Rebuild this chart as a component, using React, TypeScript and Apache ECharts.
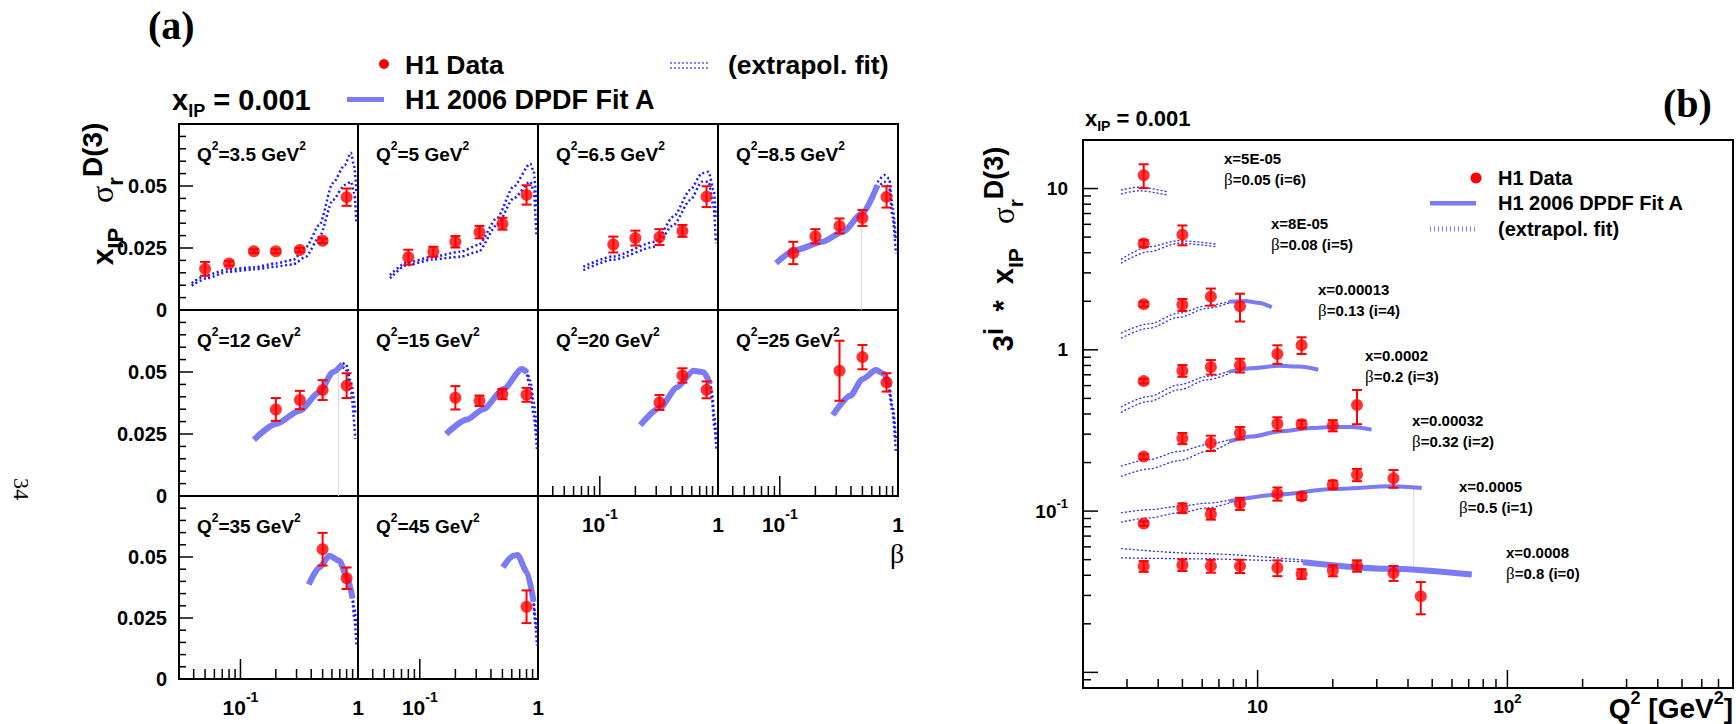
import React, { useEffect, useRef } from 'react';
import * as echarts from 'echarts';

const SANS = '"Liberation Sans", Arial, Helvetica, sans-serif';
const SERIF = '"Liberation Serif", "Times New Roman", serif';

// ---------------- DATA ----------------
const X_POMERON = '0.001';
const Q2_BINS = [3.5, 5, 6.5, 8.5, 12, 15, 20, 25, 35, 45];
// index i of panel (b): scale factor 3^i
const BETA_BINS = [0.8, 0.5, 0.32, 0.2, 0.13, 0.08, 0.05];
const X_BINS = ['0.0008', '0.0005', '0.00032', '0.0002', '0.00013', '8E-05', '5E-05'];

// measured points: [beta, x_IP*sigma_r, error]
const DATA_Q2_3P5 = [
  [0.05, 0.0166, 0.0028], [0.08, 0.0188, 0.0009], [0.13, 0.0237, 0.0008], [0.2, 0.0237, 0.0008],
  [0.32, 0.0242, 0.0008], [0.5, 0.0279, 0.0009], [0.8, 0.0455, 0.0035],
];
const DATA_Q2_5 = [
  [0.08, 0.0213, 0.003], [0.13, 0.0235, 0.002], [0.2, 0.0275, 0.0023], [0.32, 0.0314, 0.0025],
  [0.5, 0.0348, 0.0024], [0.8, 0.0464, 0.0039],
];
const DATA_Q2_6P5 = [
  [0.13, 0.0264, 0.0032], [0.2, 0.029, 0.003], [0.32, 0.0294, 0.0032], [0.5, 0.0319, 0.0024], [0.8, 0.0457, 0.0042],
];
const DATA_Q2_8P5 = [
  [0.13, 0.023, 0.0045], [0.2, 0.0297, 0.0029], [0.32, 0.0339, 0.003], [0.5, 0.0371, 0.0032], [0.8, 0.0456, 0.0043],
];
const DATA_Q2_12 = [[0.2, 0.0349, 0.0046], [0.32, 0.0387, 0.0037], [0.5, 0.0427, 0.004], [0.8, 0.0445, 0.005]];
const DATA_Q2_15 = [[0.2, 0.0396, 0.0047], [0.32, 0.0384, 0.0021], [0.5, 0.0411, 0.0021], [0.8, 0.0408, 0.0028]];
const DATA_Q2_20 = [[0.32, 0.0377, 0.003], [0.5, 0.0486, 0.0029], [0.8, 0.0428, 0.0034]];
const DATA_Q2_25 = [[0.32, 0.0505, 0.0121], [0.5, 0.056, 0.0049], [0.8, 0.0458, 0.0037]];
const DATA_Q2_35 = [[0.5, 0.0532, 0.0067], [0.8, 0.0413, 0.0044]];
const DATA_Q2_45 = [[0.8, 0.0296, 0.0067]];

// panel (a) fit (solid band centre): [beta, value]
const FIT_Q2_8P5 = [[0.093, 0.0189], [0.136, 0.0242], [0.23, 0.0275], [0.34, 0.0315], [0.5, 0.039], [0.671, 0.0504]];
const FIT_Q2_12 = [[0.13, 0.0227], [0.2, 0.029], [0.318, 0.0344], [0.47, 0.0418], [0.61, 0.0499], [0.74, 0.0532]];
const FIT_Q2_15 = [[0.167, 0.025], [0.25, 0.0308], [0.346, 0.0351], [0.51, 0.0431], [0.731, 0.0512], [0.807, 0.0499]];
const FIT_Q2_20 = [[0.22, 0.0286], [0.324, 0.0357], [0.449, 0.0438], [0.621, 0.0505], [0.755, 0.0499], [0.86, 0.0451]];
const FIT_Q2_25 = [[0.281, 0.0326], [0.394, 0.0404], [0.5, 0.0471], [0.65, 0.0508], [0.766, 0.0492], [0.843, 0.0438]];
const FIT_Q2_35 = [[0.381, 0.0387], [0.47, 0.0458], [0.571, 0.0505], [0.693, 0.0485], [0.817, 0.0411], [0.9, 0.033]];
const FIT_Q2_45 = [[0.505, 0.0458], [0.621, 0.0505], [0.671, 0.0508], [0.807, 0.0438], [0.918, 0.0317]];

// panel (a) extrapolated fit band edges: [beta, lower, upper]
const EXTRAP_Q2_3P5 = [
  [0.0385, 0.0098, 0.0108], [0.0515, 0.0128, 0.0141], [0.0785, 0.0154, 0.0164], [0.13, 0.0164, 0.0172],
  [0.2, 0.0175, 0.0188], [0.28, 0.0184, 0.0202], [0.36, 0.0215, 0.0253], [0.47, 0.0295, 0.0343],
  [0.61, 0.0443, 0.0511], [0.77, 0.0504, 0.0584], [0.87, 0.0517, 0.0634], [0.93, 0.047, 0.0578], [0.97, 0.035, 0.047],
];
const EXTRAP_Q2_5 = [
  [0.056, 0.0128, 0.0141], [0.0775, 0.0181, 0.0191], [0.13, 0.0204, 0.0215], [0.22, 0.0215, 0.0235],
  [0.313, 0.0235, 0.0262], [0.449, 0.0343, 0.037], [0.621, 0.045, 0.0497], [0.861, 0.0517, 0.059],
  [0.92, 0.048, 0.056], [0.97, 0.03, 0.042],
];
const EXTRAP_Q2_6P5 = [
  [0.0726, 0.0161, 0.0175], [0.13, 0.0203, 0.0216], [0.294, 0.0255, 0.0275], [0.42, 0.0343, 0.0376],
  [0.582, 0.0443, 0.0484], [0.731, 0.0517, 0.0551], [0.832, 0.0517, 0.0557], [0.918, 0.0416, 0.0484], [0.96, 0.0269, 0.0376],
];
const EXTRAP_Q2_8P5 = [[0.671, 0.049, 0.0515], [0.766, 0.0517, 0.0544], [0.843, 0.049, 0.053], [0.9, 0.0376, 0.0416], [0.96, 0.0228, 0.0282]];
const EXTRAP_Q2_12 = [[0.74, 0.052, 0.0535], [0.79, 0.0512, 0.0532], [0.87, 0.0418, 0.0458], [0.95, 0.023, 0.0337]];
const EXTRAP_Q2_15 = [[0.807, 0.049, 0.0505], [0.86, 0.0438, 0.0465], [0.92, 0.0324, 0.0378], [0.98, 0.019, 0.0257]];
const EXTRAP_Q2_20 = [[0.86, 0.044, 0.046], [0.89, 0.039, 0.0418], [0.93, 0.0283, 0.0324], [0.97, 0.019, 0.023]];
const EXTRAP_Q2_25 = [[0.843, 0.043, 0.0445], [0.9, 0.0337, 0.0364], [0.96, 0.0176, 0.023]];
const EXTRAP_Q2_35 = [[0.9, 0.032, 0.034], [0.93, 0.025, 0.029], [0.97, 0.0142, 0.021]];
const EXTRAP_Q2_45 = [[0.918, 0.031, 0.0325], [0.95, 0.0223, 0.0257], [0.98, 0.0137, 0.0196]];

// faint drawing artefacts (thin vertical lines)
const VLINE_Q2_8P5 = [[0.489, 0], [0.489, 0.0356]];
const VLINE_Q2_12 = [[0.684, 0], [0.684, 0.0525]];
const VLINE_B = [[42.2, 0.0435], [42.2, 0.139]];

// panel (b) fits, already multiplied by 3^i: solid [Q2, value]; extrapolated [Q2, lower, upper]
const FIT_B_I0 = [[15.2, 0.0482], [33.4, 0.0439], [72, 0.0404]];
const FIT_B_I1 = [[7.67, 0.115], [12.2, 0.1265], [19.9, 0.137], [34.5, 0.1425], [45.4, 0.139]];
const FIT_B_I2 = [[7.67, 0.27], [9.5, 0.29], [12.2, 0.312], [16.5, 0.327], [19.9, 0.332], [23.9, 0.332], [28.6, 0.32]];
const FIT_B_I3 = [[7.67, 0.73], [9.5, 0.77], [12.2, 0.796], [14.6, 0.788], [17.5, 0.752]];
const FIT_B_I4 = [[7.67, 1.99], [8.95, 2.01], [10, 1.96], [11.4, 1.84]];
const EXTRAP_B_I0 = [[2.84, 0.0513, 0.0586], [5.82, 0.0506, 0.0546], [15.2, 0.0485, 0.0497]];
const EXTRAP_B_I1 = [[2.84, 0.0853, 0.0975], [3.67, 0.0908, 0.102], [4.84, 0.0975, 0.107], [6.29, 0.1047, 0.112], [7.67, 0.112, 0.1167]];
const EXTRAP_B_I2 = [[2.84, 0.164, 0.19], [3.67, 0.1825, 0.2085], [4.84, 0.2055, 0.2345], [6.29, 0.2345, 0.258], [7.67, 0.264, 0.277]];
const EXTRAP_B_I3 = [[2.84, 0.409, 0.442], [3.67, 0.479, 0.514], [4.84, 0.565, 0.607], [6.29, 0.652, 0.684], [7.67, 0.71, 0.734]];
const EXTRAP_B_I4 = [[2.84, 1.18, 1.27], [3.67, 1.36, 1.45], [4.84, 1.59, 1.69], [6.29, 1.81, 1.88], [7.67, 1.95, 1.99]];
const EXTRAP_B_I5 = [[2.84, 3.44, 3.64], [3.67, 4.06, 4.36], [4.84, 4.58, 4.75], [6.79, 4.36, 4.53]];
const EXTRAP_B_I6 = [[2.84, 9.25, 9.79], [3.35, 9.69, 10.2], [4.34, 9.12, 9.56]];

// axis ranges and ticks
const BETA_RANGE = [0.03, 1];
const SIGMA_RANGE = [0, 0.075];
const Q2_RANGE = [2, 800];
const SCALED_RANGE = [0.008, 20];
const BETA_MAJOR_TICKS = [0.1];
const BETA_MINOR_TICKS = [0.04, 0.05, 0.06, 0.07, 0.08, 0.09, 0.2, 0.3, 0.4, 0.5, 0.6, 0.7, 0.8, 0.9];
const SIGMA_MAJOR_TICKS = [0.025, 0.05];
const SIGMA_MINOR_TICKS = [0.005, 0.01, 0.015, 0.02, 0.03, 0.035, 0.04, 0.045, 0.055, 0.06, 0.065, 0.07];
const Q2_MAJOR_TICKS = [10, 100];
const Q2_MINOR_TICKS = [3, 4, 5, 6, 7, 8, 9, 20, 30, 40, 50, 60, 70, 80, 90, 200, 300, 400, 500, 600, 700];
const SCALED_MAJOR_TICKS = [0.01, 0.1, 1, 10];
const SCALED_MINOR_TICKS = [0.009, 0.02, 0.03, 0.04, 0.05, 0.06, 0.07, 0.08, 0.09, 0.2, 0.3, 0.4, 0.5, 0.6, 0.7, 0.8, 0.9, 2, 3, 4, 5, 6, 7, 8, 9];

const PANEL_DATA = [DATA_Q2_3P5, DATA_Q2_5, DATA_Q2_6P5, DATA_Q2_8P5, DATA_Q2_12, DATA_Q2_15, DATA_Q2_20, DATA_Q2_25, DATA_Q2_35, DATA_Q2_45];
const PANEL_FIT = [[], [], [], FIT_Q2_8P5, FIT_Q2_12, FIT_Q2_15, FIT_Q2_20, FIT_Q2_25, FIT_Q2_35, FIT_Q2_45];
const PANEL_EXTRAP = [EXTRAP_Q2_3P5, EXTRAP_Q2_5, EXTRAP_Q2_6P5, EXTRAP_Q2_8P5, EXTRAP_Q2_12, EXTRAP_Q2_15, EXTRAP_Q2_20, EXTRAP_Q2_25, EXTRAP_Q2_35, EXTRAP_Q2_45];
const PANEL_VLINE: any[] = [null, null, null, VLINE_Q2_8P5, VLINE_Q2_12, null, null, null, null, null];
const FIT_B = [FIT_B_I0, FIT_B_I1, FIT_B_I2, FIT_B_I3, FIT_B_I4, [], []];
const EXTRAP_B = [EXTRAP_B_I0, EXTRAP_B_I1, EXTRAP_B_I2, EXTRAP_B_I3, EXTRAP_B_I4, EXTRAP_B_I5, EXTRAP_B_I6];

// ---------------- LAYOUT / STYLE ----------------
const A_COL_EDGES = [179, 358, 538, 718, 898];
const A_ROW_EDGES = [124, 310, 496, 682];
const B_GRID = { left: 1083, top: 140, width: 652, height: 548 };
const RED = '#ff0000';
const BAND = '#7b7bf4';
const DOT_BLUE = '#1a1aff';
const LEG_DOT = '#8080ff';

const near = (a: number, b: number) => Math.abs(a - b) < 1e-9 * Math.max(1, Math.abs(b));

const errRender = (cap: number) => (params: any, api: any) => {
  const x = api.value(0);
  const lo = api.coord([x, api.value(2)]);
  const hi = api.coord([x, api.value(3)]);
  const style = { stroke: RED, lineWidth: 2 };
  return {
    type: 'group',
    children: [
      { type: 'line', shape: { x1: lo[0], y1: lo[1], x2: hi[0], y2: hi[1] }, style },
      { type: 'line', shape: { x1: lo[0] - cap, y1: lo[1], x2: lo[0] + cap, y2: lo[1] }, style },
      { type: 'line', shape: { x1: hi[0] - cap, y1: hi[1], x2: hi[0] + cap, y2: hi[1] }, style },
    ],
  };
};

const xTickRender = (params: any, api: any) => {
  const p = api.coord([api.value(0), api.value(1)]);
  const len = api.value(2);
  return { type: 'line', shape: { x1: p[0], y1: p[1], x2: p[0], y2: p[1] - len }, style: { stroke: '#000', lineWidth: 1.5 } };
};
const yTickRender = (params: any, api: any) => {
  const p = api.coord([api.value(0), api.value(1)]);
  const len = api.value(2);
  return { type: 'line', shape: { x1: p[0], y1: p[1], x2: p[0] + len, y2: p[1] }, style: { stroke: '#000', lineWidth: 1.5 } };
};

function richText(text: string, x: number, y: number, size: number, opts: any = {}) {
  const subSize = opts.sub || Math.round(size * 0.65);
  const supSize = opts.sup || Math.round(size * 0.65);
  const lh = opts.lh || Math.round(size * 1.45);
  return {
    type: 'text',
    x,
    y,
    rotation: opts.rotation || 0,
    silent: true,
    style: {
      text,
      fontSize: size,
      fontWeight: opts.weight || 'bold',
      fontFamily: opts.family || SANS,
      fill: '#000',
      lineHeight: lh,
      align: opts.align || 'left',
      verticalAlign: 'middle',
      rich: {
        sup: { fontSize: supSize, fontWeight: 'bold', fontFamily: SANS, lineHeight: supSize, verticalAlign: 'top', fill: '#000' },
        sub: { fontSize: subSize, fontWeight: 'bold', fontFamily: SANS, lineHeight: subSize, verticalAlign: 'bottom', fill: '#000' },
        b: { fontSize: size + 2, fontWeight: 'normal', fontFamily: SERIF, lineHeight: lh, fill: '#000' },
        sig: { fontSize: size + 2, fontWeight: 'normal', fontFamily: SERIF, lineHeight: lh, fill: '#000' },
      },
    },
  };
}

function buildOption() {
  const grid: any[] = [];
  const xAxis: any[] = [];
  const yAxis: any[] = [];
  const series: any[] = [];
  const graphic: any[] = [];
  const labelBase = { color: '#000', fontFamily: SANS, fontWeight: 'bold' };
  const hidden = { axisLine: { show: false }, axisTick: { show: false }, splitLine: { show: false } };

  const betaLabel = (v: number) => (near(v, 0.1) ? '10{s|-1}' : near(v, 1) ? '1' : '');
  const sigmaLabel = (v: number) => (v > 0.07 ? '' : String(parseFloat(v.toFixed(3))));

  Q2_BINS.forEach((q2, k) => {
    const col = k % 4;
    const row = Math.floor(k / 4);
    const left = A_COL_EDGES[col];
    const top = A_ROW_EDGES[row];
    const width = A_COL_EDGES[col + 1] - left;
    const height = A_ROW_EDGES[row + 1] - top;
    const isLeft = col === 0;
    const isBottom = k >= 6;
    grid.push({ left, top, width, height, show: true, borderColor: '#000', borderWidth: 2, backgroundColor: 'rgba(0,0,0,0)' });
    xAxis.push({
      type: 'log', logBase: 10, gridIndex: k, min: BETA_RANGE[0], max: BETA_RANGE[1], ...hidden,
      axisLabel: {
        show: isBottom, ...labelBase, fontSize: 21, lineHeight: 34, margin: 11, formatter: betaLabel,
        rich: { s: { ...labelBase, fontSize: 14, lineHeight: 14, verticalAlign: 'top' } },
      },
    });
    yAxis.push({
      type: 'value', gridIndex: k, min: SIGMA_RANGE[0], max: SIGMA_RANGE[1], interval: 0.025, ...hidden,
      axisLabel: { show: isLeft, ...labelBase, fontSize: 20, margin: 12, formatter: sigmaLabel },
    });
    const ax = { xAxisIndex: k, yAxisIndex: k };
    const extrap = PANEL_EXTRAP[k];
    [1, 2].forEach((c) => {
      series.push({
        type: 'line', ...ax, data: extrap.map((r) => [r[0], r[c]]), symbol: 'none', smooth: 0.25, smoothMonotone: 'x',
        lineStyle: { color: DOT_BLUE, width: 2.5, type: [2, 2.6] }, z: 2, silent: true,
      });
    });
    if (PANEL_FIT[k].length) {
      series.push({
        type: 'line', ...ax, data: PANEL_FIT[k], symbol: 'none', smooth: 0.25, smoothMonotone: 'x',
        lineStyle: { color: BAND, width: 6, cap: 'butt' }, z: 3, silent: true,
      });
    }
    if (PANEL_VLINE[k]) {
      series.push({ type: 'line', ...ax, data: PANEL_VLINE[k], symbol: 'none', lineStyle: { color: '#d4d4f6', width: 1 }, z: 1, silent: true });
    }
    const pts = PANEL_DATA[k];
    series.push({
      type: 'custom', ...ax, renderItem: errRender(5), data: pts.map(([b, v, e]) => [b, v, v - e, v + e]),
      encode: { x: 0, y: [1, 2, 3] }, z: 5, silent: true,
    });
    series.push({ type: 'scatter', ...ax, data: pts.map(([b, v]) => [b, v]), symbol: 'circle', symbolSize: 12, itemStyle: { color: RED }, z: 6, silent: true });
    if (isBottom) {
      const ticks = [...BETA_MAJOR_TICKS.map((t) => [t, SIGMA_RANGE[0], 20]), ...BETA_MINOR_TICKS.map((t) => [t, SIGMA_RANGE[0], 10])];
      series.push({ type: 'custom', ...ax, renderItem: xTickRender, data: ticks, encode: { x: 0, y: 1 }, z: 7, silent: true });
    }
    if (isLeft) {
      const ticks = [...SIGMA_MAJOR_TICKS.map((t) => [BETA_RANGE[0], t, 14]), ...SIGMA_MINOR_TICKS.map((t) => [BETA_RANGE[0], t, 7])];
      series.push({ type: 'custom', ...ax, renderItem: yTickRender, data: ticks, encode: { x: 0, y: 1 }, z: 7, silent: true });
    }
    graphic.push(richText(`Q{sup|2}=${q2} GeV{sup|2}`, left + 18, top + 30, 19, { sup: 12, lh: 28 }));
  });

  // ---------- panel (b) ----------
  const gb = Q2_BINS.length;
  grid.push({ ...B_GRID, show: true, borderColor: '#000', borderWidth: 2, backgroundColor: 'rgba(0,0,0,0)' });
  xAxis.push({
    type: 'log', logBase: 10, gridIndex: gb, min: Q2_RANGE[0], max: Q2_RANGE[1], ...hidden,
    axisLabel: {
      ...labelBase, fontSize: 19, lineHeight: 28, margin: 4,
      formatter: (v: number) => (near(v, 10) ? '10' : near(v, 100) ? '10{s|2}' : ''),
      rich: { s: { ...labelBase, fontSize: 13, lineHeight: 13, verticalAlign: 'top' } },
    },
  });
  yAxis.push({
    type: 'log', logBase: 10, gridIndex: gb, min: SCALED_RANGE[0], max: SCALED_RANGE[1], ...hidden,
    axisLabel: {
      ...labelBase, fontSize: 19, lineHeight: 28, margin: 15,
      formatter: (v: number) => (near(v, 10) ? '10' : near(v, 1) ? '1' : near(v, 0.1) ? '10{s|-1}' : ''),
      rich: { s: { ...labelBase, fontSize: 13, lineHeight: 13, verticalAlign: 'top' } },
    },
  });
  const axb = { xAxisIndex: gb, yAxisIndex: gb };
  BETA_BINS.forEach((beta, i) => {
    const f = Math.pow(3, i);
    const pts: number[][] = [];
    Q2_BINS.forEach((q2, k) => {
      PANEL_DATA[k].forEach(([b, v, e]) => {
        if (near(b, beta)) pts.push([q2, v * f, (v - e) * f, (v + e) * f]);
      });
    });
    [1, 2].forEach((c) => {
      series.push({
        type: 'line', ...axb, data: EXTRAP_B[i].map((r) => [r[0], r[c]]), symbol: 'none', smooth: 0.3, smoothMonotone: 'x',
        lineStyle: { color: '#2a2aff', width: 1.3, type: [2, 2] }, z: 2, silent: true,
      });
    });
    if (FIT_B[i].length) {
      series.push({
        type: 'line', ...axb, data: FIT_B[i], symbol: 'none', smooth: 0.3, smoothMonotone: 'x',
        lineStyle: { color: BAND, width: i === 0 ? 6 : 4 }, z: 3, silent: true,
      });
    }
    series.push({ type: 'custom', ...axb, renderItem: errRender(5), data: pts, encode: { x: 0, y: [1, 2, 3] }, z: 5, silent: true });
    series.push({ type: 'scatter', ...axb, data: pts.map((p) => [p[0], p[1]]), symbol: 'circle', symbolSize: 12, itemStyle: { color: RED }, z: 6, silent: true });
    const lx = 1224 + 47 * (6 - i);
    const ly = 158 + 65.7 * (6 - i);
    graphic.push(richText(`x=${X_BINS[i]}`, lx, ly, 15, { lh: 18 }));
    graphic.push(richText(`{b|β}=${beta} (i=${i})`, lx, ly + 21, 15, { lh: 18 }));
  });
  series.push({ type: 'line', ...axb, data: VLINE_B, symbol: 'none', lineStyle: { color: '#d4d4f6', width: 1 }, z: 1, silent: true });
  series.push({
    type: 'custom', ...axb, renderItem: xTickRender, encode: { x: 0, y: 1 }, z: 7, silent: true,
    data: [...Q2_MAJOR_TICKS.map((t) => [t, SCALED_RANGE[0], 18]), ...Q2_MINOR_TICKS.map((t) => [t, SCALED_RANGE[0], 9])],
  });
  series.push({
    type: 'custom', ...axb, renderItem: yTickRender, encode: { x: 0, y: 1 }, z: 7, silent: true,
    data: [...SCALED_MAJOR_TICKS.map((t) => [Q2_RANGE[0], t, 15]), ...SCALED_MINOR_TICKS.map((t) => [Q2_RANGE[0], t, 8])],
  });

  // ---------- texts, legends ----------
  graphic.push(richText('(a)', 148, 25, 40, { family: SERIF }));
  graphic.push(richText('(b)', 1663, 103, 40, { family: SERIF }));
  graphic.push(richText(`x{sub|IP} = ${X_POMERON}`, 172, 100, 29, { lh: 40, sub: 18 }));
  graphic.push(richText(`x{sub|IP} = ${X_POMERON}`, 1085, 118, 22, { lh: 30 }));
  // legend (a)
  graphic.push({ type: 'circle', shape: { cx: 384, cy: 64, r: 5 }, style: { fill: RED }, silent: true });
  graphic.push(richText('H1 Data', 405, 65, 26.5));
  graphic.push({ type: 'rect', shape: { x: 347, y: 97, width: 37, height: 5 }, style: { fill: BAND }, silent: true });
  graphic.push(richText('H1 2006 DPDF Fit A', 405, 100, 27));
  [63, 68].forEach((y) =>
    graphic.push({ type: 'line', shape: { x1: 670, y1: y, x2: 708, y2: y }, style: { stroke: LEG_DOT, lineWidth: 2, lineDash: [2, 2] }, silent: true })
  );
  graphic.push(richText('(extrapol. fit)', 728, 65, 26.5));
  // legend (b)
  graphic.push({ type: 'circle', shape: { cx: 1476, cy: 178, r: 5.5 }, style: { fill: RED }, silent: true });
  graphic.push(richText('H1 Data', 1498, 178, 20));
  graphic.push({ type: 'rect', shape: { x: 1430, y: 201, width: 46, height: 4.5 }, style: { fill: BAND }, silent: true });
  graphic.push(richText('H1 2006 DPDF Fit A', 1498, 203, 20));
  graphic.push({ type: 'line', shape: { x1: 1430, y1: 229, x2: 1476, y2: 229 }, style: { stroke: LEG_DOT, lineWidth: 5, lineDash: [1, 3] }, silent: true });
  graphic.push(richText('(extrapol. fit)', 1498, 229, 20));
  // axis titles
  graphic.push(
    richText('x{sub|IP}   {sig|σ}{sub|r}{sup|D(3)}', 102, 194, 30, { align: 'center', rotation: Math.PI / 2, lh: 48, sub: 22, sup: 28 })
  );
  graphic.push(
    richText('3{sup|i}  *  x{sub|IP}   {sig|σ}{sub|r}{sup|D(3)}', 1003, 249, 29, { align: 'center', rotation: Math.PI / 2, lh: 46, sub: 21, sup: 27 })
  );
  graphic.push(richText('{b|β}', 890, 553, 26, { lh: 30 }));
  graphic.push(richText('Q{sup|2} [GeV{sup|2}]', 1733, 708, 28, { align: 'right', lh: 38 }));
  graphic.push(richText('34', 21, 489, 22, { family: SERIF, weight: 'normal', align: 'center', rotation: -Math.PI / 2 }));

  return { animation: false, backgroundColor: '#fff', grid, xAxis, yAxis, series, graphic };
}

export default function App() {
  const ref = useRef<HTMLDivElement>(null);
  useEffect(() => {
    if (!ref.current) return;
    const chart = echarts.init(ref.current, null, { renderer: 'svg' });
    chart.setOption(buildOption() as any);
    return () => chart.dispose();
  }, []);
  return <div ref={ref} style={{ position: 'absolute', left: 0, top: 0, width: 1736, height: 724, background: '#fff' }} />;
}
